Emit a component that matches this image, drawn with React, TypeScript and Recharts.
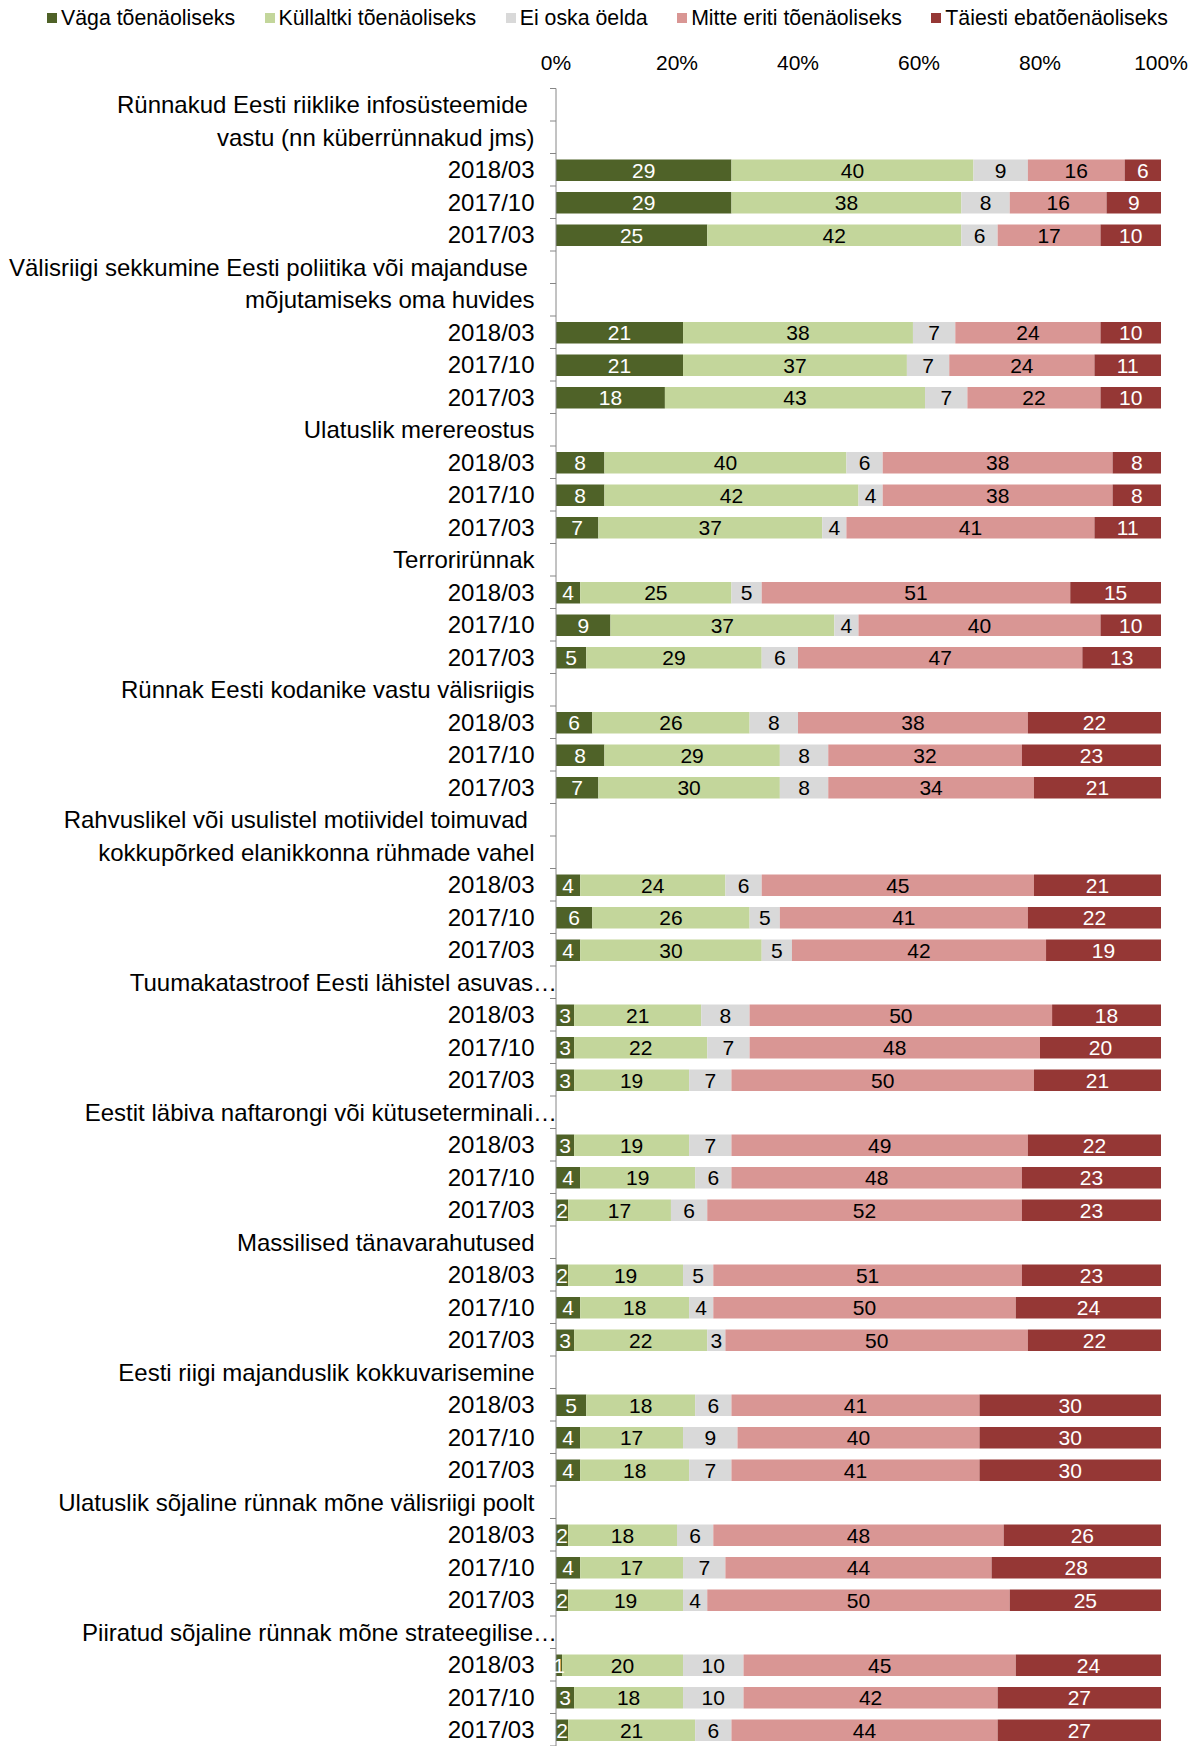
import React from "react";
import { BarChart, Bar, XAxis, YAxis, Legend, LabelList } from "recharts";

const WAVES = ["2018/03", "2017/10", "2017/03"];

const TOPICS: string[][] = [
  ["Rünnakud Eesti riiklike infosüsteemide ", "vastu (nn küberrünnakud jms)"],
  ["Välisriigi sekkumine Eesti poliitika või majanduse ", "mõjutamiseks oma huvides"],
  ["Ulatuslik merereostus"],
  ["Terrorirünnak"],
  ["Rünnak Eesti kodanike vastu välisriigis"],
  ["Rahvuslikel või usulistel motiividel toimuvad ", "kokkupõrked elanikkonna rühmade vahel"],
  ["Tuumakatastroof Eesti lähistel asuvas…"],
  ["Eestit läbiva naftarongi või kütuseterminali…"],
  ["Massilised tänavarahutused"],
  ["Eesti riigi majanduslik kokkuvarisemine"],
  ["Ulatuslik sõjaline rünnak mõne välisriigi poolt"],
  ["Piiratud sõjaline rünnak mõne strateegilise…"],
];

const SERIES_NAMES = [
  "Väga tõenäoliseks",
  "Küllaltki tõenäoliseks",
  "Ei oska öelda",
  "Mitte eriti tõenäoliseks",
  "Täiesti ebatõenäoliseks",
];

// values per topic, in wave order 2018/03, 2017/10, 2017/03
const VAGA = [29, 29, 25, 21, 21, 18, 8, 8, 7, 4, 9, 5, 6, 8, 7, 4, 6, 4, 3, 3, 3, 3, 4, 2, 2, 4, 3, 5, 4, 4, 2, 4, 2, 1, 3, 2];
const KULLALTKI = [40, 38, 42, 38, 37, 43, 40, 42, 37, 25, 37, 29, 26, 29, 30, 24, 26, 30, 21, 22, 19, 19, 19, 17, 19, 18, 22, 18, 17, 18, 18, 17, 19, 20, 18, 21];
const EI_OSKA = [9, 8, 6, 7, 7, 7, 6, 4, 4, 5, 4, 6, 8, 8, 8, 6, 5, 5, 8, 7, 7, 7, 6, 6, 5, 4, 3, 6, 9, 7, 6, 7, 4, 10, 10, 6];
const MITTE_ERITI = [16, 16, 17, 24, 24, 22, 38, 38, 41, 51, 40, 47, 38, 32, 34, 45, 41, 42, 50, 48, 50, 49, 48, 52, 51, 50, 50, 41, 40, 41, 48, 44, 50, 45, 42, 44];
const TAIESTI = [6, 9, 10, 10, 11, 10, 8, 8, 11, 15, 10, 13, 22, 23, 21, 21, 22, 19, 18, 20, 21, 22, 23, 23, 23, 24, 22, 30, 30, 30, 26, 28, 25, 24, 27, 27];

const X_TICKS = [0, 20, 40, 60, 80, 100];

const COLORS = ["#4F6228", "#C3D69B", "#D9D9D9", "#D99694", "#953735"];
const LABEL_COLORS = ["#ffffff", "#000000", "#000000", "#000000", "#ffffff"];
const SERIES = [VAGA, KULLALTKI, EI_OSKA, MITTE_ERITI, TAIESTI];

type Row = { id: string; label: string; kind: "topic" | "wave"; [k: string]: any };

const rows: Row[] = [];
TOPICS.forEach((lines, t) => {
  lines.forEach((line, i) => {
    rows.push({ id: `t${t}-l${i}`, label: line, kind: "topic" });
  });
  WAVES.forEach((w, wi) => {
    const r: Row = { id: `t${t}-w${wi}`, label: w, kind: "wave" };
    SERIES.forEach((s, si) => {
      r[`v${si}`] = s[t * 3 + wi];
    });
    rows.push(r);
  });
});

const FONT = "'Liberation Sans', Arial, sans-serif";
const W = 1198;
const H = 1746;
const TOP = 88.5;
const LEFT = 556;
const RIGHT = 37;
const LEGEND_H = 36;
const PITCH = (H - TOP) / rows.length;

const YTick = (props: any) => {
  const { x, y, payload, index } = props;
  const row = rows.find((r) => r.id === payload.value);
  const label = row ? row.label : "";
  const ellipsis = label.endsWith("…");
  const tx = ellipsis ? x + 1 : x - 21.5;
  return (
    <g>
      <line x1={x - 6} x2={x} y1={y - PITCH / 2} y2={y - PITCH / 2} stroke="#868686" strokeWidth={1} />
      {index === rows.length - 1 && (
        <line x1={x - 6} x2={x} y1={y + PITCH / 2} y2={y + PITCH / 2} stroke="#868686" strokeWidth={1} />
      )}
      <text
        x={tx}
        y={y}
        textAnchor="end"
        dominantBaseline="central"
        fontSize={24}
        fontFamily={FONT}
        fill="#000"
        style={{ whiteSpace: "pre" }}
      >
        {label}
      </text>
    </g>
  );
};

const XTick = (props: any) => {
  const { x, y, payload } = props;
  return (
    <text x={x} y={y - 26} textAnchor="middle" dominantBaseline="central" fontSize={21} fontFamily={FONT} fill="#000">
      {`${payload.value}%`}
    </text>
  );
};

const makeLabel = (color: string) => (props: any) => {
  const { x, y, width, height, value } = props;
  if (value === undefined || value === null) return null;
  return (
    <text
      x={x + width / 2}
      y={y + height / 2}
      textAnchor="middle"
      dominantBaseline="central"
      fontSize={21}
      fontFamily={FONT}
      fill={color}
    >
      {value}
    </text>
  );
};

const LegendContent = (props: any) => {
  const { payload } = props;
  const items = [...(payload || [])].sort(
    (a: any, b: any) => SERIES_NAMES.indexOf(a.value) - SERIES_NAMES.indexOf(b.value)
  );
  return (
    <div
      style={{
        display: "flex",
        alignItems: "center",
        height: LEGEND_H,
        paddingLeft: 47,
        fontFamily: FONT,
        fontSize: 21.3,
        color: "#000",
        boxSizing: "border-box",
      }}
    >
      {items.map((p: any, i: number) => (
        <div key={i} style={{ display: "flex", alignItems: "center", marginRight: 29.5 }}>
          <span style={{ display: "inline-block", width: 10, height: 10, background: p.color, marginRight: 4 }} />
          <span style={{ lineHeight: "24px", whiteSpace: "nowrap" }}>{p.value}</span>
        </div>
      ))}
    </div>
  );
};

export default function App() {
  return (
    <div style={{ position: "absolute", left: 0, top: 0, width: W, height: H, background: "#fff" }}>
      <BarChart
        width={W}
        height={H}
        data={rows}
        layout="vertical"
        margin={{ top: 0, right: RIGHT, bottom: 0, left: 0 }}
        barSize={21.5}
      >
        <Legend
          verticalAlign="top"
          align="left"
          height={LEGEND_H}
          content={<LegendContent />}
          wrapperStyle={{ top: 0, left: 0, width: W }}
        />
        <XAxis
          type="number"
          orientation="top"
          domain={[0, 100]}
          ticks={X_TICKS}
          height={TOP - LEGEND_H}
          axisLine={false}
          tickLine={false}
          tickSize={0}
          tickMargin={0}
          tick={<XTick />}
          interval={0}
        />
        <YAxis
          type="category"
          dataKey="id"
          width={LEFT}
          axisLine={{ stroke: "#868686", strokeWidth: 1 }}
          tickLine={false}
          tickSize={0}
          tickMargin={0}
          tick={<YTick />}
          interval={0}
        />
        {SERIES_NAMES.map((name, si) => (
          <Bar
            key={name}
            dataKey={`v${si}`}
            name={name}
            stackId="a"
            fill={COLORS[si]}
            barSize={21.5}
            isAnimationActive={false}
          >
            <LabelList dataKey={`v${si}`} content={makeLabel(LABEL_COLORS[si])} />
          </Bar>
        ))}
      </BarChart>
    </div>
  );
}
